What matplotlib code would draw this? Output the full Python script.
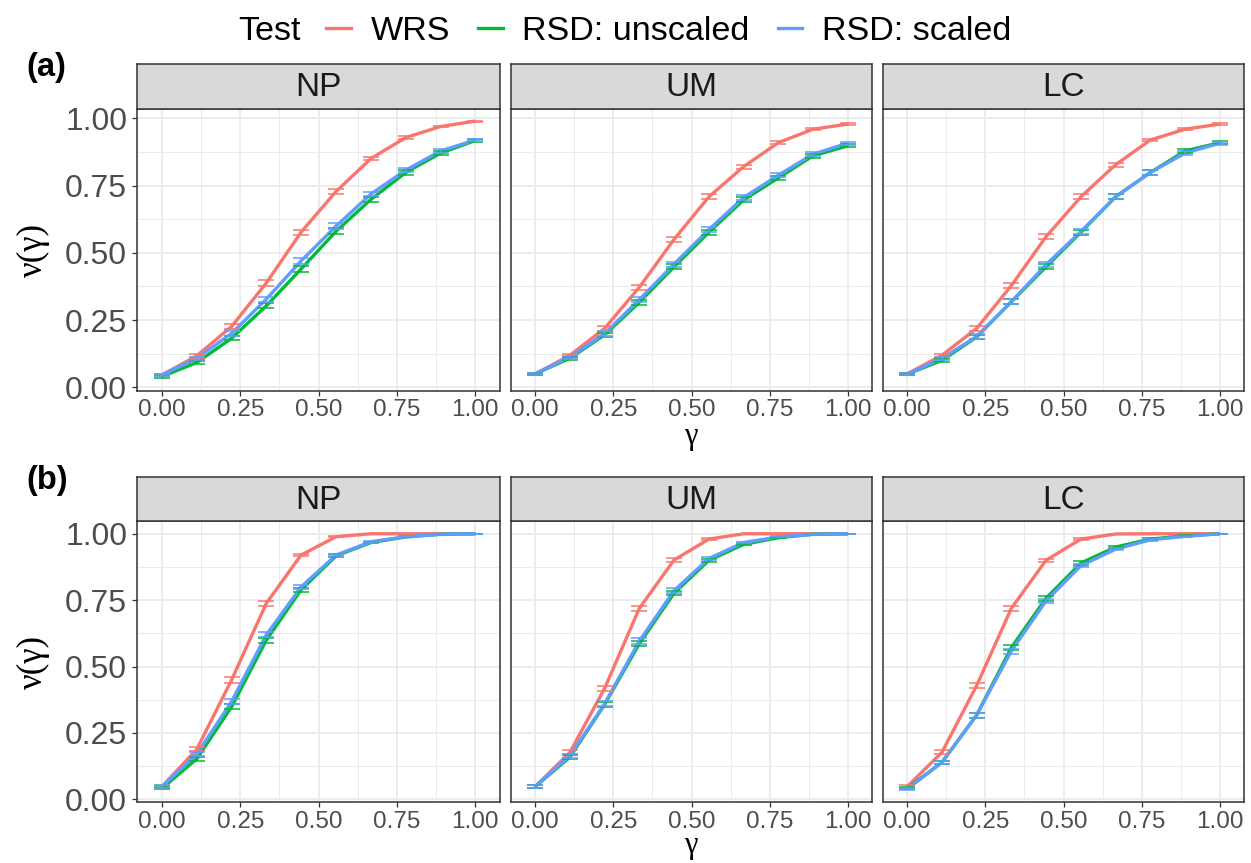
import numpy as np
import matplotlib
matplotlib.use("Agg")
import matplotlib.pyplot as plt
from matplotlib.lines import Line2D

# ---------------- data ----------------
gamma = [0.0, 0.111, 0.222, 0.333, 0.444, 0.556, 0.667, 0.778, 0.889, 1.0]
facets = ["NP", "UM", "LC"]
tests = ["WRS", "RSD: unscaled", "RSD: scaled"]
n_rep = 10000  # replications behind each rejection rate

# row (a)
a_NP_wrs = [0.046, 0.117, 0.226, 0.388, 0.577, 0.729, 0.851, 0.929, 0.970, 0.990]
a_NP_uns = [0.040, 0.092, 0.182, 0.303, 0.440, 0.581, 0.699, 0.799, 0.871, 0.918]
a_NP_sca = [0.046, 0.108, 0.200, 0.328, 0.470, 0.600, 0.719, 0.808, 0.879, 0.920]

a_UM_wrs = [0.050, 0.119, 0.219, 0.372, 0.550, 0.709, 0.821, 0.910, 0.960, 0.979]
a_UM_uns = [0.050, 0.108, 0.195, 0.316, 0.448, 0.577, 0.697, 0.779, 0.861, 0.898]
a_UM_sca = [0.050, 0.112, 0.200, 0.326, 0.458, 0.587, 0.706, 0.789, 0.867, 0.908]

a_LC_wrs = [0.050, 0.119, 0.219, 0.378, 0.560, 0.709, 0.828, 0.920, 0.960, 0.979]
a_LC_uns = [0.049, 0.100, 0.187, 0.318, 0.448, 0.577, 0.709, 0.799, 0.879, 0.910]
a_LC_sca = [0.049, 0.107, 0.189, 0.318, 0.456, 0.580, 0.709, 0.799, 0.871, 0.908]

# row (b)
b_NP_wrs = [0.048, 0.188, 0.449, 0.738, 0.920, 0.989, 1.000, 1.000, 1.000, 1.000]
b_NP_uns = [0.041, 0.152, 0.348, 0.599, 0.789, 0.917, 0.967, 0.988, 0.998, 1.000]
b_NP_sca = [0.048, 0.169, 0.368, 0.619, 0.800, 0.920, 0.970, 0.989, 0.998, 1.000]

b_UM_wrs = [0.048, 0.177, 0.418, 0.719, 0.901, 0.980, 1.000, 1.000, 1.000, 1.000]
b_UM_uns = [0.048, 0.159, 0.357, 0.586, 0.776, 0.900, 0.960, 0.985, 0.998, 1.000]
b_UM_sca = [0.048, 0.164, 0.360, 0.596, 0.786, 0.907, 0.967, 0.988, 0.998, 1.000]

b_LC_wrs = [0.048, 0.177, 0.428, 0.719, 0.900, 0.980, 0.999, 1.000, 1.000, 1.000]
b_LC_uns = [0.041, 0.139, 0.317, 0.571, 0.757, 0.890, 0.950, 0.980, 0.992, 1.000]
b_LC_sca = [0.039, 0.139, 0.317, 0.558, 0.747, 0.880, 0.942, 0.977, 0.990, 1.000]

rows = [
    ("(a)", [[a_NP_wrs, a_NP_uns, a_NP_sca],
             [a_UM_wrs, a_UM_uns, a_UM_sca],
             [a_LC_wrs, a_LC_uns, a_LC_sca]]),
    ("(b)", [[b_NP_wrs, b_NP_uns, b_NP_sca],
             [b_UM_wrs, b_UM_uns, b_UM_sca],
             [b_LC_wrs, b_LC_uns, b_LC_sca]]),
]

colors = ["#F8766D", "#00BA38", "#619CFF"]
xticks = [0.0, 0.25, 0.5, 0.75, 1.0]
xtick_labels = ["0.00", "0.25", "0.50", "0.75", "1.00"]
yticks = [0.0, 0.25, 0.5, 0.75, 1.0]
ytick_labels = ["0.00", "0.25", "0.50", "0.75", "1.00"]
minor = [0.125, 0.375, 0.625, 0.875]

# ---------------- layout (pixels) ----------------
W, H = 1251, 863
plt.rcParams["font.family"] = ["Liberation Sans", "DejaVu Sans"]
fig = plt.figure(figsize=(W / 100, H / 100), dpi=100)
fig.patch.set_facecolor("white")

col_x = [(137.3, 500.0), (510.7, 872.3), (882.7, 1244.3)]
row_geo = [
    # strip top, panel top, panel bottom, y-limits
    dict(strip=64.3, top=108.5, bottom=390.7, ylim=(-0.0127, 1.037),
         tag_y=67.5, xlab_y=436),
    dict(strip=477.0, top=521.0, bottom=802.3, ylim=(-0.0113, 1.048),
         tag_y=480.0, xlab_y=845),
]
dark = "#333333"
grid_c = "#EBEBEB"


def fx(px):
    return px / W


def fy(py):
    return 1 - py / H


for (tag, panels), geo in zip(rows, row_geo):
    for j, (fac, series) in enumerate(zip(facets, panels)):
        x0, x1 = col_x[j]
        ax = fig.add_axes([fx(x0), fy(geo["bottom"]), fx(x1 - x0),
                           (geo["bottom"] - geo["top"]) / H])
        ax.set_xlim(-0.0786, 1.0786)
        ax.set_ylim(*geo["ylim"])
        ax.set_facecolor("white")
        for v in minor:
            ax.axvline(v, color=grid_c, lw=0.7, zorder=0)
            ax.axhline(v, color=grid_c, lw=0.7, zorder=0)
        for v in xticks:
            ax.axvline(v, color=grid_c, lw=1.3, zorder=0)
        for v in yticks:
            ax.axhline(v, color=grid_c, lw=1.3, zorder=0)

        for vals, c in zip(series, colors):
            ax.plot(gamma, vals, color=c, lw=2.4, solid_capstyle="butt",
                    zorder=2)
        for vals, c in zip(series, colors):
            p = np.array(vals)
            err = 1.96 * np.sqrt(p * (1 - p) / n_rep)
            ax.errorbar(gamma, p, yerr=err, fmt="none", ecolor=c,
                        elinewidth=1.1, capsize=5.6, capthick=1.1, zorder=3)

        for s in ax.spines.values():
            s.set_color(dark)
            s.set_linewidth(1.1)
        ax.set_xticks(xticks)
        ax.set_xticklabels(xtick_labels)
        ax.tick_params(axis="x", length=3.8, width=0.9, color=dark,
                       labelsize=17.5, labelcolor="#4D4D4D", pad=2.5)
        ax.set_yticks(yticks)
        if j == 0:
            ax.set_yticklabels(ytick_labels)
            ax.tick_params(axis="y", length=3.8, width=0.9, color=dark,
                           labelsize=23, labelcolor="#4D4D4D", pad=3.5)
        else:
            ax.tick_params(axis="y", length=0, labelleft=False)

        # facet strip
        sax = fig.add_axes([fx(x0), fy(geo["top"]), fx(x1 - x0),
                            (geo["top"] - geo["strip"]) / H])
        sax.set_facecolor("#D9D9D9")
        sax.set_xticks([])
        sax.set_yticks([])
        for s in sax.spines.values():
            s.set_color(dark)
            s.set_linewidth(1.1)
        sax.text(0.5, 0.47, fac, ha="center", va="center", fontsize=24,
                 color="#1A1A1A", transform=sax.transAxes)

    # row tag, axis titles
    fig.text(fx(26), fy(geo["tag_y"]), tag, ha="left", va="center",
             fontsize=23.5, fontweight="bold")
    fig.text(fx(33), fy((geo["top"] + geo["bottom"]) / 2), "ν(γ)",
             rotation=90, ha="center", va="center", fontsize=25,
             family=["Liberation Serif", "DejaVu Serif"])
    fig.text(fx((col_x[0][0] + col_x[2][1]) / 2), fy(geo["xlab_y"]), "γ",
             ha="center", va="center", fontsize=22,
             family=["Liberation Serif", "DejaVu Serif"])

# legend along the top
fig.text(fx(238), fy(31), "Test", ha="left", va="center", fontsize=24.6)
handles = [Line2D([], [], color=c, lw=2.4) for c in colors]
fig.legend(handles, tests, loc="center left",
           bbox_to_anchor=(fx(326), fy(31)), ncol=3, frameon=False,
           fontsize=24.6, handlelength=0.72, handletextpad=0.58,
           columnspacing=0.82, borderaxespad=0, borderpad=0)

fig.savefig("out.png", dpi=100)
